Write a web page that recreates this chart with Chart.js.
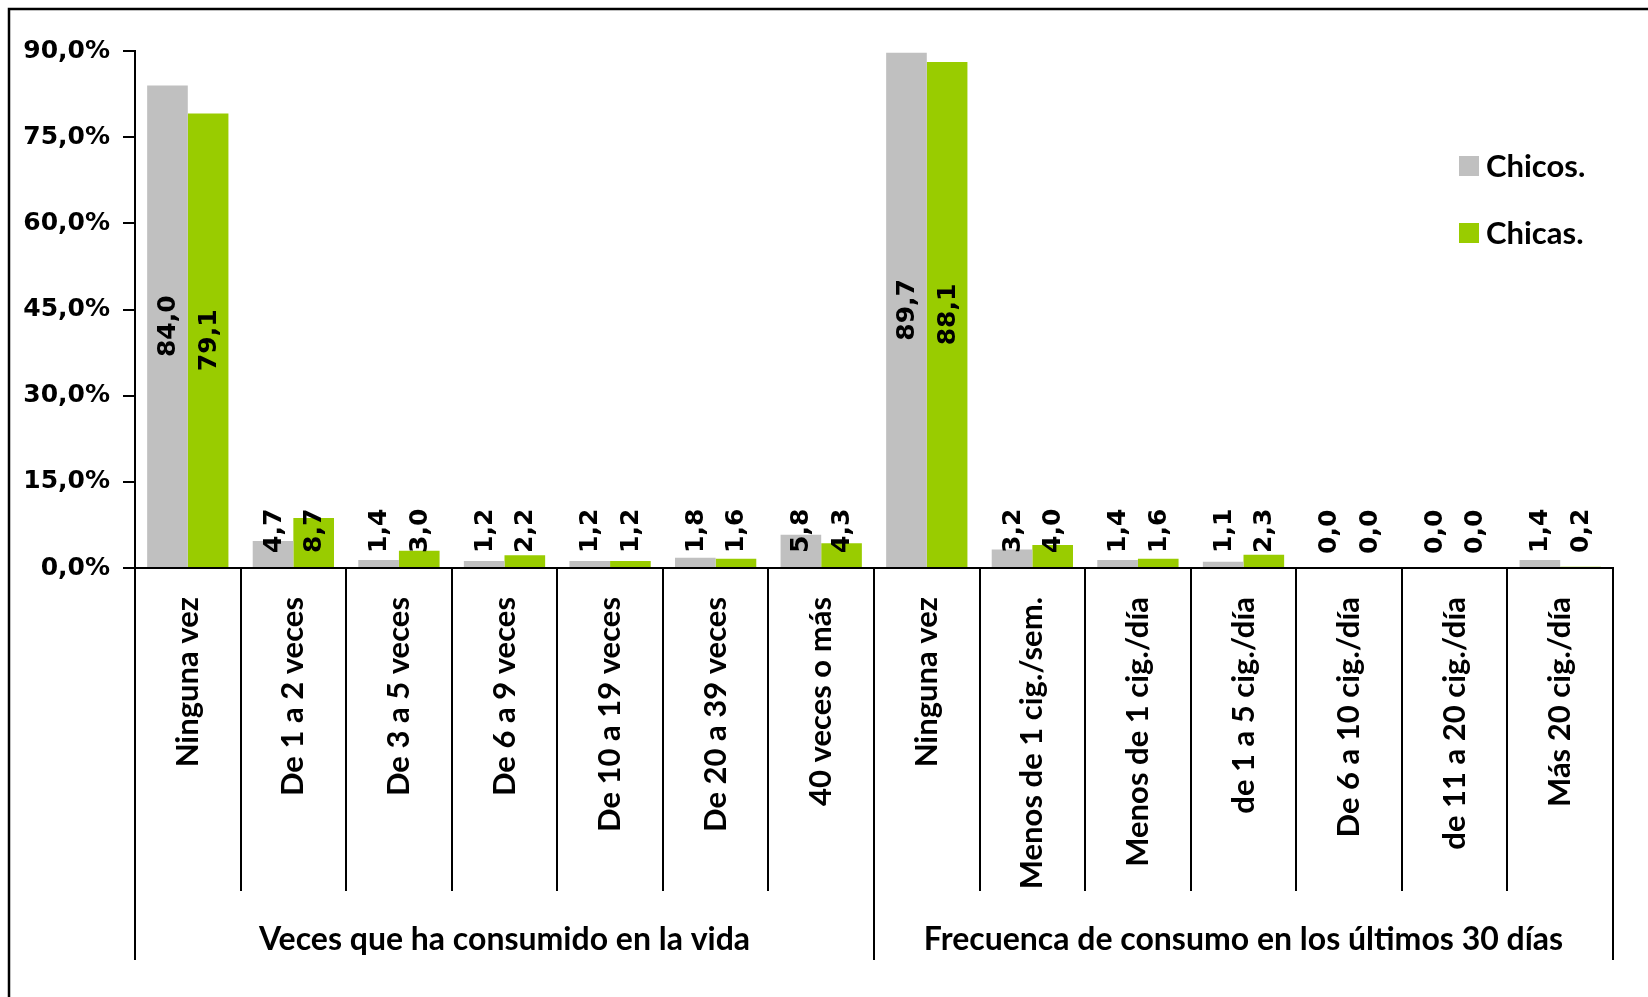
<!DOCTYPE html>
<html>
<head>
<meta charset="utf-8">
<script src="https://cdn.jsdelivr.net/npm/chart.js@4.4.0/dist/chart.umd.min.js"></script>
<style>
  body { margin: 0; background: #fff; }
  canvas { display: block; }
</style>
</head>
<body>
<canvas id="myChart" width="1648" height="997"></canvas>
<script>
var categorias = ['Ninguna vez', 'De 1 a 2 veces', 'De 3 a 5 veces', 'De 6 a 9 veces', 'De 10 a 19 veces',
  'De 20 a 39 veces', '40 veces o más', 'Ninguna vez', 'Menos de 1 cig./sem.', 'Menos de 1 cig./día',
  'de 1 a 5 cig./día', 'De 6 a 10 cig./día', 'de 11 a 20 cig./día', 'Más 20 cig./día'];
var chicos = [84.0, 4.7, 1.4, 1.2, 1.2, 1.8, 5.8, 89.7, 3.2, 1.4, 1.1, 0.0, 0.0, 1.4];
var chicas = [79.1, 8.7, 3.0, 2.2, 1.2, 1.6, 4.3, 88.1, 4.0, 1.6, 2.3, 0.0, 0.0, 0.2];
var series = ['Chicos.', 'Chicas.'];
var colores = ['#C0C0C0', '#99CC00'];
var grupos = ['Veces que ha consumido en la vida', 'Frecuenca de consumo en los últimos 30 días'];
var grupoInicio = [0, 7];
var grupoFin = [6, 13];
var yMax = 90;
var yPaso = 15;

function coma(v, dec) {
    return v.toFixed(dec).replace('.', ',');
}

// separadores, etiquetas de grupo, leyenda, etiquetas de datos y borde
var extras = {
    id: 'extras',
    afterDraw: function (chart) {
        var ctx = chart.ctx;
        var xs = chart.scales.x;
        var area = chart.chartArea;
        var mitad = (xs.getPixelForValue(1) - xs.getPixelForValue(0)) / 2;

        ctx.save();
        ctx.strokeStyle = '#000';
        ctx.lineWidth = 2;
        // lineas entre categorias
        for (var i = 0; i <= categorias.length; i++) {
            var x = Math.round(xs.getPixelForValue(i) - mitad);
            var largo = (grupoInicio.indexOf(i) >= 0 || i === categorias.length) ? 960 : 891;
            ctx.beginPath();
            ctx.moveTo(x, area.bottom);
            ctx.lineTo(x, largo);
            ctx.stroke();
        }

        // etiquetas de grupo
        ctx.fillStyle = '#000';
        ctx.font = 'bold 32px Lato';
        ctx.textAlign = 'center';
        ctx.textBaseline = 'middle';
        grupos.forEach(function (g, k) {
            var x0 = xs.getPixelForValue(grupoInicio[k]) - mitad;
            var x1 = xs.getPixelForValue(grupoFin[k]) + mitad;
            ctx.fillText(g, (x0 + x1) / 2, 940);
        });

        // leyenda
        ctx.textAlign = 'left';
        ctx.font = 'bold 31px Lato';
        series.forEach(function (s, k) {
            var cy = 166 + k * 67;
            ctx.fillStyle = colores[k];
            ctx.fillRect(1459, cy - 10, 20, 20);
            ctx.fillStyle = '#000';
            ctx.fillText(s, 1486, cy + 1);
        });

        // etiquetas de datos (verticales)
        ctx.font = 'bold 25px "DejaVu Sans"';
        ctx.textAlign = 'center';
        chart.data.datasets.forEach(function (ds, d) {
            var meta = chart.getDatasetMeta(d);
            meta.data.forEach(function (bar, i) {
                var txt = coma(ds.data[i], 1);
                var w = ctx.measureText(txt).width;
                var cy = Math.min((bar.y + bar.base) / 2, bar.base - 14 - w / 2);
                ctx.save();
                ctx.translate(bar.x, cy);
                ctx.rotate(-Math.PI / 2);
                ctx.fillText(txt, 0, 1);
                ctx.restore();
            });
        });

        // borde exterior
        ctx.lineWidth = 2.5;
        ctx.strokeStyle = '#000';
        ctx.strokeRect(9, 9, 1700, 1100);
        ctx.restore();
    }
};

var chart = new Chart(document.getElementById('myChart'), {
    type: 'bar',
    data: {
        labels: categorias,
        datasets: [
            { label: series[0], data: chicos, backgroundColor: colores[0] },
            { label: series[1], data: chicas, backgroundColor: colores[1] }
        ]
    },
    options: {
        responsive: false,
        animation: false,
        events: [],
        layout: { padding: { left: 10, right: 35, top: 51, bottom: 0 } },
        datasets: { bar: { categoryPercentage: 0.77, barPercentage: 1 } },
        plugins: { legend: { display: false }, tooltip: { enabled: false } },
        scales: {
            x: {
                grid: { display: false },
                border: { display: true, color: '#000', width: 2 },
                ticks: {
                    color: '#000',
                    autoSkip: false,
                    maxRotation: 90,
                    minRotation: 90,
                    padding: 21,
                    font: { family: 'Lato', size: 31, weight: 'bold' }
                },
                afterFit: function (scale) { scale.height = 997 - 568; }
            },
            y: {
                min: 0,
                max: yMax,
                grid: { drawOnChartArea: false, drawTicks: true, tickLength: 12, color: '#000', lineWidth: 2 },
                border: { display: true, color: '#000', width: 2 },
                ticks: {
                    stepSize: yPaso,
                    color: '#000',
                    padding: 13,
                    font: { family: 'DejaVu Sans', size: 25, weight: 'bold' },
                    callback: function (v) { return coma(v, 1) + '%'; }
                },
                afterFit: function (scale) { scale.width = 125; }
            }
        }
    },
    plugins: [extras]
});
</script>
</body>
</html>
